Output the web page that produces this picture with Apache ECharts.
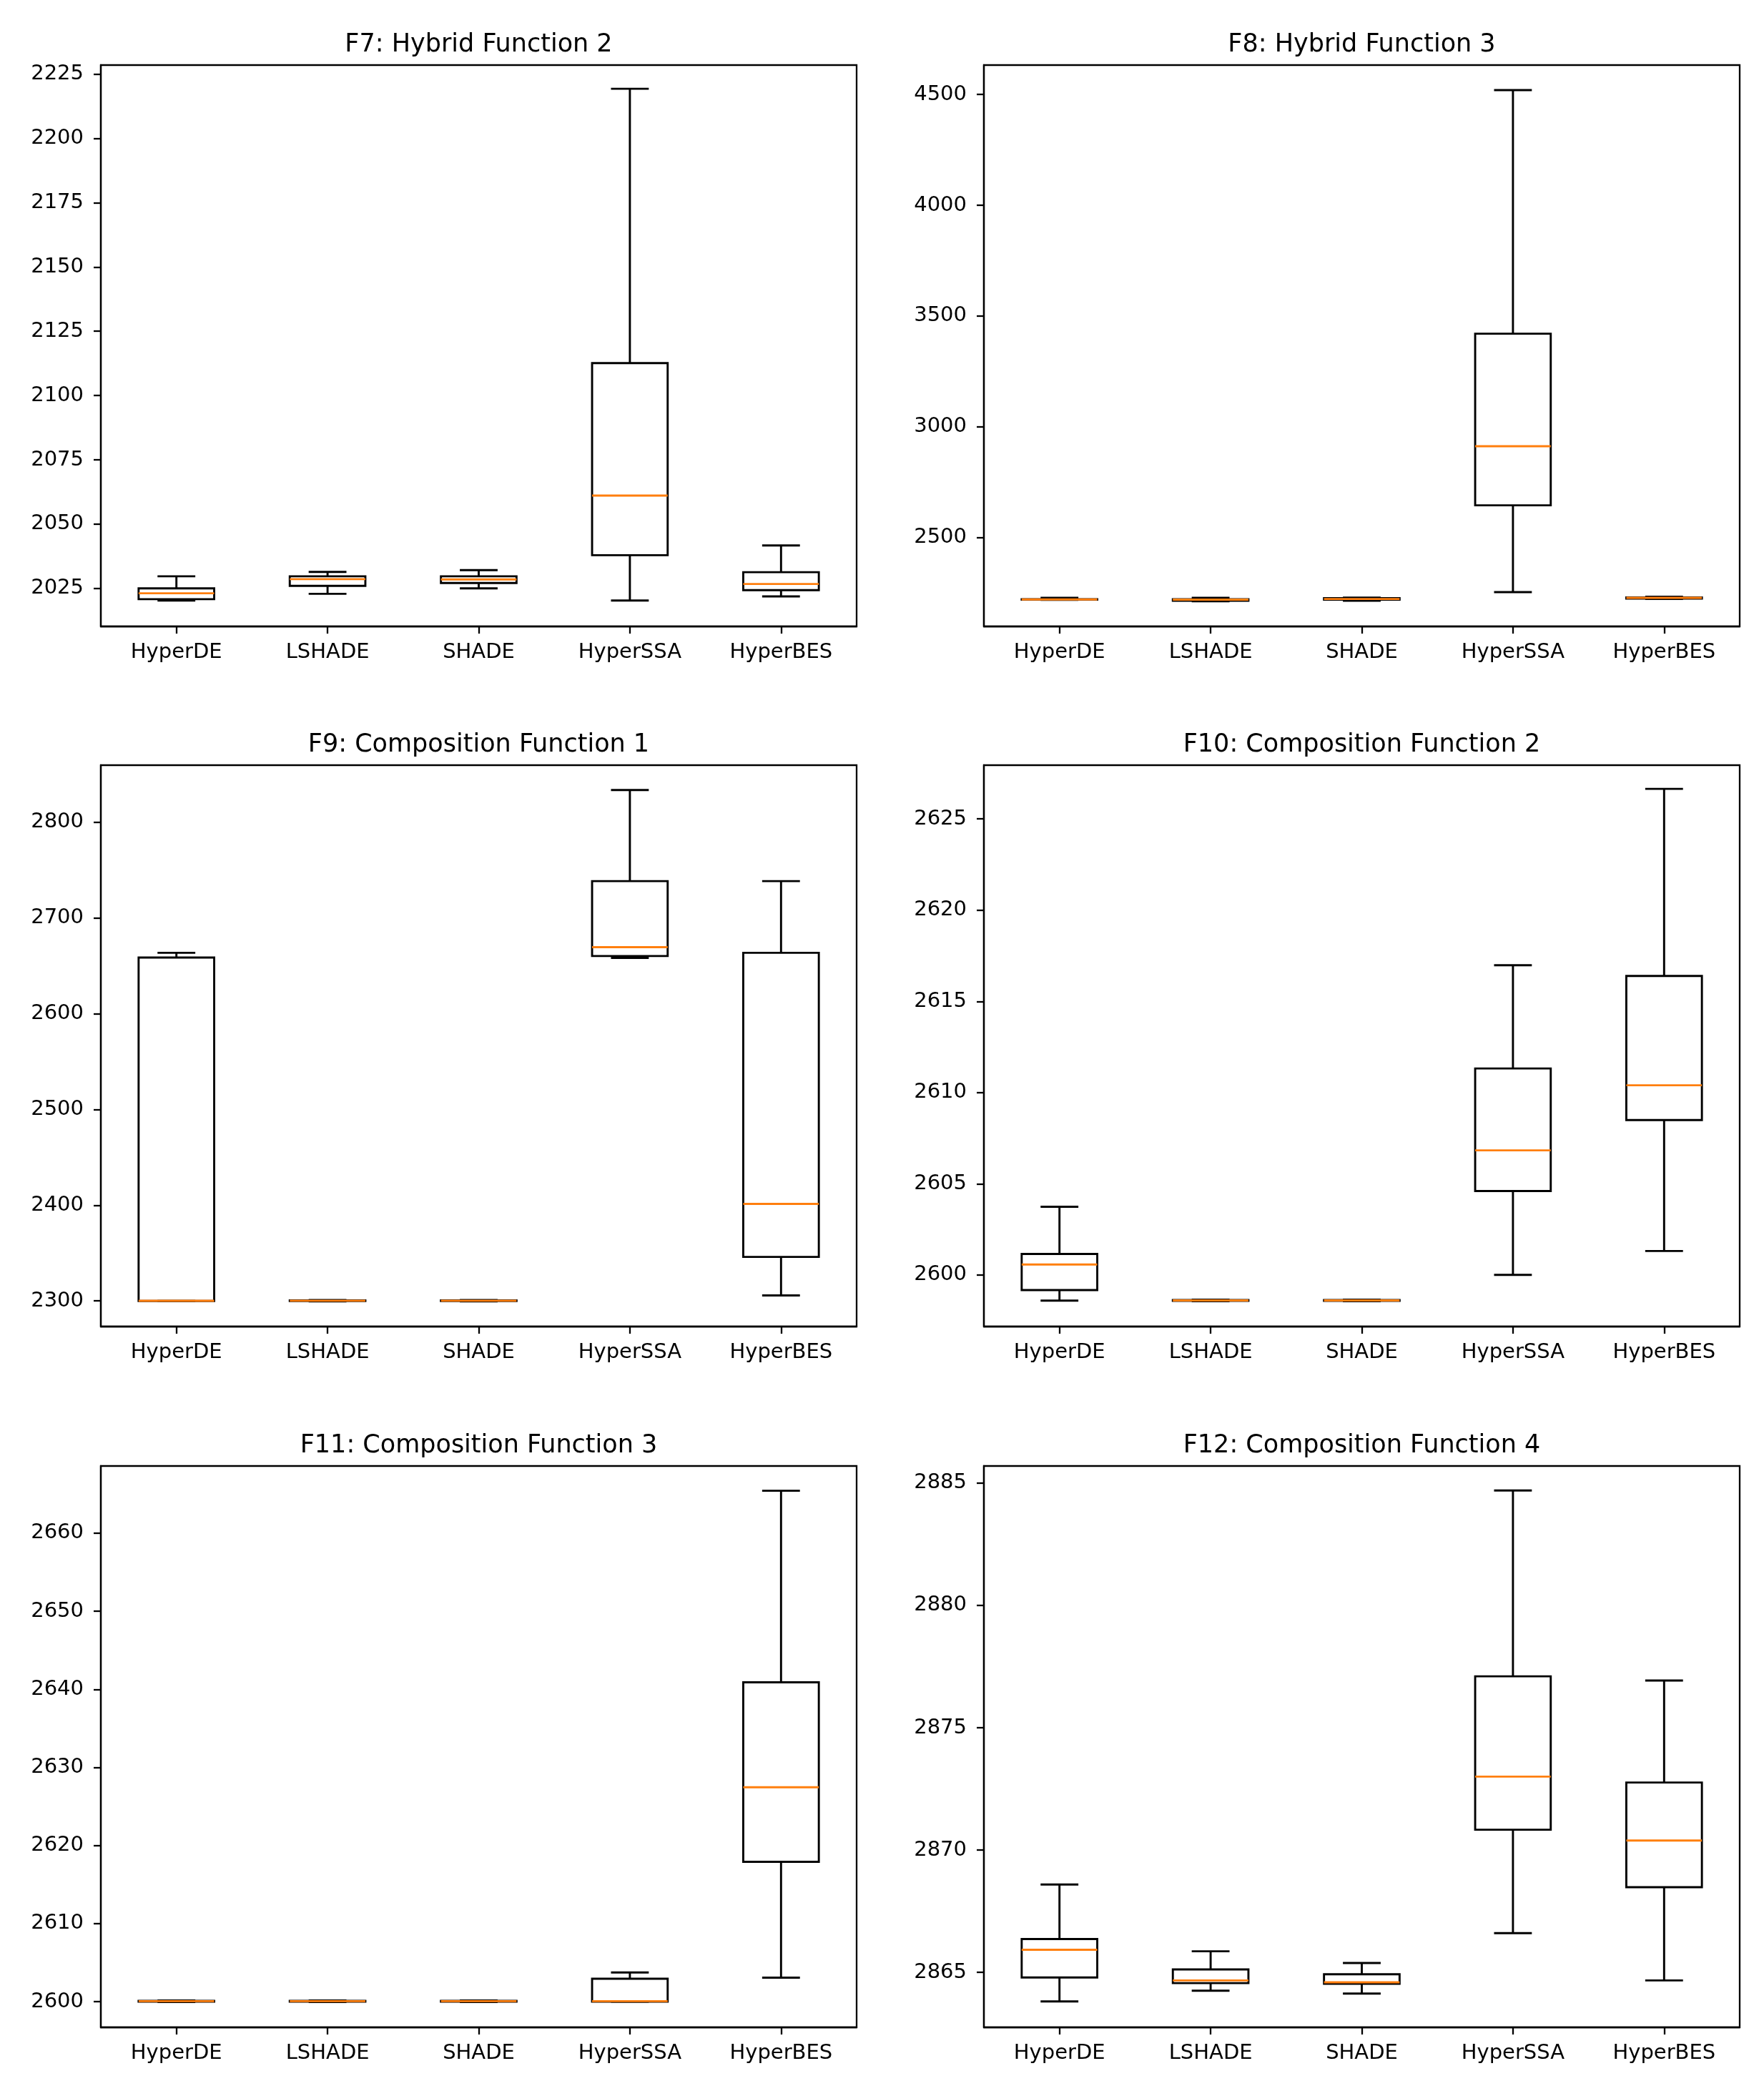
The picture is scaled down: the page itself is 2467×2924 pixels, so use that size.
<!DOCTYPE html>
<html>
<head>
<meta charset="utf-8">
<script src="https://cdn.jsdelivr.net/npm/echarts@6/dist/echarts.min.js"></script>
<style>
  html, body { margin: 0; padding: 0; background: #fff; }
  #main { width: 2467px; height: 2924px; }
</style>
</head>
<body>
<div id="main"></div>
<script>
// algorithms on the x axis
const algorithms = ['HyperDE', 'LSHADE', 'SHADE', 'HyperSSA', 'HyperBES'];

const panelTitles = [
  'F7: Hybrid Function 2', 'F8: Hybrid Function 3',
  'F9: Composition Function 1', 'F10: Composition Function 2',
  'F11: Composition Function 3', 'F12: Composition Function 4'
];

// each row: [min, q1, median, q3, max], one row per algorithm
const f7Data = [
  [2020.3, 2020.8, 2023.1, 2025.0, 2029.7],
  [2022.9, 2026.0, 2028.6, 2029.7, 2031.4],
  [2025.0, 2027.1, 2028.5, 2029.7, 2032.1],
  [2020.3, 2037.9, 2061.1, 2112.6, 2219.3],
  [2021.9, 2024.3, 2026.7, 2031.3, 2041.7]
];
const f8Data = [
  [2218, 2219, 2220, 2221, 2227],
  [2212, 2214, 2219, 2221, 2227],
  [2214, 2219, 2222, 2226, 2228],
  [2253, 2645, 2912, 3420, 4520],
  [2222, 2224, 2227, 2229, 2232]
];
const f9Data = [
  [2300.0, 2300.0, 2300.2, 2658.6, 2663.6],
  [2299.6, 2300.0, 2300.3, 2300.6, 2301.0],
  [2299.6, 2300.0, 2300.3, 2300.6, 2301.0],
  [2658.3, 2660.2, 2669.4, 2738.4, 2833.5],
  [2305.8, 2346.0, 2401.4, 2663.6, 2738.4]
];
const f10Data = [
  [2598.59, 2599.17, 2600.57, 2601.15, 2603.74],
  [2598.56, 2598.58, 2598.60, 2598.62, 2598.64],
  [2598.56, 2598.58, 2598.60, 2598.62, 2598.64],
  [2600.00, 2604.60, 2606.83, 2611.32, 2616.98],
  [2601.31, 2608.49, 2610.40, 2616.39, 2626.65]
];
const f11Data = [
  [2599.95, 2600.00, 2600.05, 2600.10, 2600.15],
  [2599.95, 2600.00, 2600.05, 2600.10, 2600.15],
  [2599.95, 2600.00, 2600.05, 2600.10, 2600.15],
  [2600.00, 2600.00, 2600.05, 2602.93, 2603.73],
  [2603.07, 2617.90, 2627.45, 2640.90, 2665.43]
];
const f12Data = [
  [2863.81, 2864.79, 2865.92, 2866.36, 2868.59],
  [2864.25, 2864.56, 2864.67, 2865.12, 2865.86],
  [2864.13, 2864.53, 2864.59, 2864.92, 2865.38],
  [2866.60, 2870.83, 2873.00, 2877.10, 2884.70],
  [2864.67, 2868.48, 2870.39, 2872.76, 2876.93]
];

// y tick labels per panel
const f7Ticks = [2025, 2050, 2075, 2100, 2125, 2150, 2175, 2200, 2225];
const f8Ticks = [2500, 3000, 3500, 4000, 4500];
const f9Ticks = [2300, 2400, 2500, 2600, 2700, 2800];
const f10Ticks = [2600, 2605, 2610, 2615, 2620, 2625];
const f11Ticks = [2600, 2610, 2620, 2630, 2640, 2650, 2660];
const f12Ticks = [2865, 2870, 2875, 2880, 2885];

// y axis limits [min, max]
const f7Range = [2010.2, 2228.5];
const f8Range = [2098, 4633];
const f9Range = [2273.3, 2859.5];
const f10Range = [2597.17, 2627.95];
const f11Range = [2596.7, 2668.6];
const f12Range = [2862.75, 2885.7];

const panelData = [f7Data, f8Data, f9Data, f10Data, f11Data, f12Data];
const panelTicks = [f7Ticks, f8Ticks, f9Ticks, f10Ticks, f11Ticks, f12Ticks];
const panelRanges = [f7Range, f8Range, f9Range, f10Range, f11Range, f12Range];

const colLeft = [141, 1376];
const rowTop = [91, 1070, 2050];
const gridW = 1057;
const gridH = 785;
const font = 'DejaVu Sans';
const lw = 2.9;

function renderBox(params, api) {
  const x = api.value(0);
  const pMin = api.coord([x, api.value(1)]);
  const pQ1 = api.coord([x, api.value(2)]);
  const pMed = api.coord([x, api.value(3)]);
  const pQ3 = api.coord([x, api.value(4)]);
  const pMax = api.coord([x, api.value(5)]);
  const band = api.size([1, 0])[0];
  const hw = band * 0.25;   // box half width
  const cw = band * 0.125;  // cap half width
  const cx = pMed[0];
  const st = { stroke: '#000', lineWidth: lw, fill: null };
  return {
    type: 'group',
    children: [
      { type: 'line', shape: { x1: cx, y1: pQ1[1], x2: cx, y2: pMin[1] }, style: st },
      { type: 'line', shape: { x1: cx, y1: pQ3[1], x2: cx, y2: pMax[1] }, style: st },
      { type: 'line', shape: { x1: cx - cw, y1: pMin[1], x2: cx + cw, y2: pMin[1] }, style: st },
      { type: 'line', shape: { x1: cx - cw, y1: pMax[1], x2: cx + cw, y2: pMax[1] }, style: st },
      { type: 'rect', shape: { x: cx - hw, y: pQ3[1], width: 2 * hw, height: pQ1[1] - pQ3[1] },
        style: { stroke: '#000', lineWidth: lw, fill: 'none' } },
      { type: 'line', shape: { x1: cx - hw, y1: pMed[1], x2: cx + hw, y2: pMed[1] },
        style: { stroke: '#ff7f0e', lineWidth: lw } }
    ]
  };
}

const grids = [], xAxes = [], yAxes = [], series = [], titles = [];
panelData.forEach(function (rows, i) {
  const col = i % 2;
  const row = Math.floor(i / 2);
  grids.push({
    left: colLeft[col], top: rowTop[row], width: gridW, height: gridH,
    show: true, borderColor: '#000', borderWidth: 2.3, backgroundColor: '#fff'
  });
  titles.push({
    text: panelTitles[i],
    left: colLeft[col] + gridW / 2,
    top: rowTop[row] - 46,
    textAlign: 'center',
    padding: 0,
    textStyle: { fontFamily: font, fontSize: 35, fontWeight: 'normal', color: '#000' }
  });
  xAxes.push({
    gridIndex: i,
    type: 'category',
    data: algorithms,
    boundaryGap: true,
    axisLine: { show: true, lineStyle: { color: '#000', width: 2.3 } },
    axisTick: { show: true, alignWithLabel: true, length: 10, lineStyle: { color: '#000', width: 2.3 } },
    axisLabel: { fontFamily: font, fontSize: 29, color: '#000', margin: 22, lineHeight: 29 },
    splitLine: { show: false }
  });
  yAxes.push({
    gridIndex: i,
    type: 'value',
    min: panelRanges[i][0],
    max: panelRanges[i][1],
    axisLine: { show: true, lineStyle: { color: '#000', width: 2.3 } },
    axisTick: { show: true, length: 10, customValues: panelTicks[i], lineStyle: { color: '#000', width: 2.3 } },
    axisLabel: {
      fontFamily: font, fontSize: 29, color: '#000', margin: 24,
      customValues: panelTicks[i],
      formatter: function (v) { return String(v); }
    },
    splitLine: { show: false }
  });
  series.push({
    type: 'custom',
    xAxisIndex: i,
    yAxisIndex: i,
    renderItem: renderBox,
    data: rows.map(function (r, k) { return [k].concat(r); })
  });
});

const chart = echarts.init(document.getElementById('main'), null, { renderer: 'canvas' });
chart.setOption({
  backgroundColor: '#fff',
  animation: false,
  title: titles,
  grid: grids,
  xAxis: xAxes,
  yAxis: yAxes,
  series: series
});
</script>
</body>
</html>
